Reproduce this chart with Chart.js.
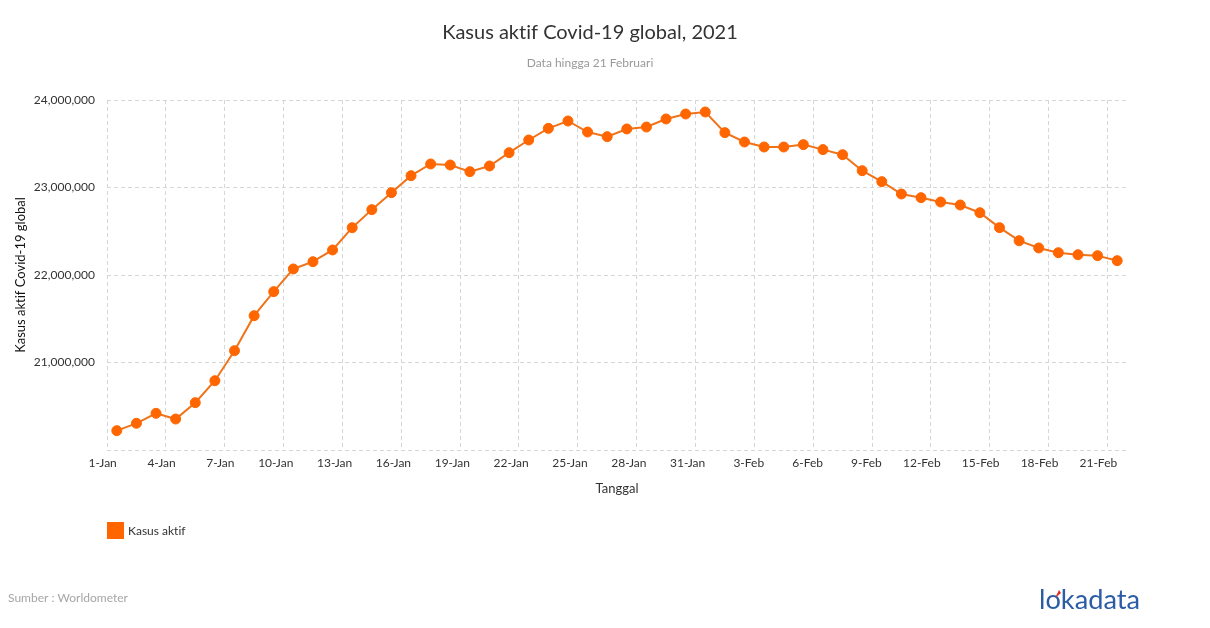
<!DOCTYPE html>
<html>
<head>
<meta charset="utf-8">
<title>Kasus aktif Covid-19 global, 2021</title>
<script src="https://cdn.jsdelivr.net/npm/chart.js"></script>
<style>
  html, body { margin: 0; padding: 0; background: #fff; }
  #wrap { width: 1210px; height: 628px; position: relative; }
</style>
</head>
<body>
<div id="wrap"><canvas id="myChart" width="1210" height="628"></canvas></div>
<script>
// categories (one per day, 1-Jan .. 21-Feb)
const dates = [
  "1-Jan", "2-Jan", "3-Jan", "4-Jan", "5-Jan", "6-Jan", "7-Jan", "8-Jan", "9-Jan", "10-Jan",
  "11-Jan", "12-Jan", "13-Jan", "14-Jan", "15-Jan", "16-Jan", "17-Jan", "18-Jan", "19-Jan", "20-Jan",
  "21-Jan", "22-Jan", "23-Jan", "24-Jan", "25-Jan", "26-Jan", "27-Jan", "28-Jan", "29-Jan", "30-Jan",
  "31-Jan", "1-Feb", "2-Feb", "3-Feb", "4-Feb", "5-Feb", "6-Feb", "7-Feb", "8-Feb", "9-Feb",
  "10-Feb", "11-Feb", "12-Feb", "13-Feb", "14-Feb", "15-Feb", "16-Feb", "17-Feb", "18-Feb", "19-Feb",
  "20-Feb", "21-Feb"
];

// active cases
const activeCases = [
  20221000, 20305000, 20419000, 20354000, 20541000, 20792000, 21135000, 21535000, 21810000, 22069000,
  22152000, 22286000, 22541000, 22747000, 22941000, 23135000, 23269000, 23257000, 23181000, 23246000,
  23398000, 23543000, 23676000, 23760000, 23634000, 23581000, 23669000, 23691000, 23783000, 23840000,
  23863000, 23627000, 23520000, 23463000, 23463000, 23490000, 23433000, 23375000, 23192000, 23067000,
  22926000, 22884000, 22834000, 22800000, 22712000, 22541000, 22392000, 22309000, 22255000, 22232000,
  22221000, 22164000
];

// y axis ticks
const yMin = 20000000;
const yMax = 24000000;
const yStep = 1000000;

const titleText = "Kasus aktif Covid-19 global, 2021";
const subtitleText = "Data hingga 21 Februari";
const sourceText = "Sumber : Worldometer";

const FONT = "Lato, 'Noto Sans', sans-serif";

// no "ti" ligature, like the original
const noLigatures = {
  id: "noLigatures",
  beforeDraw(chart) {
    chart.ctx.textRendering = "optimizeSpeed";
  }
};

// titles, legend, source and logo drawn around the chart
const extras = {
  id: "extras",
  afterDraw(chart) {
    const ctx = chart.ctx;
    ctx.save();
    ctx.textRendering = "optimizeSpeed";
    ctx.textBaseline = "middle";

    ctx.textAlign = "center";
    ctx.fillStyle = "#333333";
    ctx.font = "20px " + FONT;
    ctx.fillText(titleText, 590, 33);
    ctx.fillStyle = "#999999";
    ctx.font = "12px " + FONT;
    ctx.fillText(subtitleText, 590, 63);

    // legend
    const ds = chart.data.datasets[0];
    ctx.fillStyle = ds.pointBackgroundColor;
    ctx.fillRect(107, 522, 17, 17);
    ctx.textAlign = "left";
    ctx.fillStyle = "#333333";
    ctx.font = "12px " + FONT;
    ctx.fillText(ds.label, 128, 531);

    // source
    ctx.fillStyle = "#a6a6a6";
    ctx.fillText(sourceText, 8, 598);

    // logo
    ctx.font = "26px " + FONT;
    let w = ctx.measureText("lokadata").width;
    let size = 26 * 101 / w;
    ctx.font = size + "px " + FONT;
    ctx.fillStyle = "#2c5ca6";
    ctx.textBaseline = "alphabetic";
    ctx.fillText("lokadata", 1039, 609);
    // small red mark on the "o"
    ctx.fillStyle = "#e0302b";
    ctx.beginPath();
    ctx.moveTo(1055, 598);
    ctx.lineTo(1059, 590);
    ctx.lineTo(1061, 593);
    ctx.closePath();
    ctx.fill();
    ctx.restore();
  }
};

const ctx = document.querySelector("#myChart").getContext("2d");

new Chart(ctx, {
  type: "line",
  data: {
    labels: dates,
    datasets: [
      {
        label: "Kasus aktif",
        data: activeCases,
        borderColor: "#f0731a",
        borderWidth: 2,
        backgroundColor: "#ff6600",
        pointBackgroundColor: "#ff6600",
        pointBorderColor: "#ff6600",
        pointBorderWidth: 1,
        pointRadius: 5,
        tension: 0,
        fill: false,
      },
    ],
  },
  options: {
    responsive: false,
    animation: false,
    layout: { padding: { top: 100, right: 83, bottom: 128, left: 0 } },
    plugins: {
      legend: { display: false },
      title: { display: false },
      tooltip: { enabled: false },
    },
    scales: {
      x: {
        type: "category",
        offset: true,
        afterFit: (s) => { s.height = 50; },
        grid: {
          offset: true,
          drawTicks: false,
          color: (c) => (c.index % 3 === 0 ? "#d6d6d6" : "rgba(0,0,0,0)"),
        },
        border: { display: false, dash: [4, 3] },
        ticks: {
          autoSkip: false,
          maxRotation: 0,
          align: "end",
          padding: 6,
          color: "#333333",
          font: { family: FONT, size: 12 },
          callback: (v, i) => (i % 3 === 0 ? dates[i] : ""),
        },
        title: {
          display: true,
          text: "Tanggal",
          color: "#333333",
          font: { family: FONT, size: 13 },
          padding: { top: 0, bottom: 3 },
        },
      },
      y: {
        min: yMin,
        max: yMax,
        afterFit: (s) => { s.width = 107; },
        grid: { drawTicks: false, color: "#d6d6d6" },
        border: { display: false, dash: [4, 3] },
        ticks: {
          stepSize: yStep,
          padding: 12,
          color: "#333333",
          font: { family: FONT, size: 12 },
          callback: (v) => (v === yMin ? "" : v.toLocaleString("en-US")),
        },
        title: {
          display: true,
          text: "Kasus aktif Covid-19 global",
          color: "#111111",
          font: { family: FONT, size: 13 },
          padding: { top: 13, bottom: 0 },
        },
      },
    },
  },
  plugins: [noLigatures, extras],
});
</script>
</body>
</html>
